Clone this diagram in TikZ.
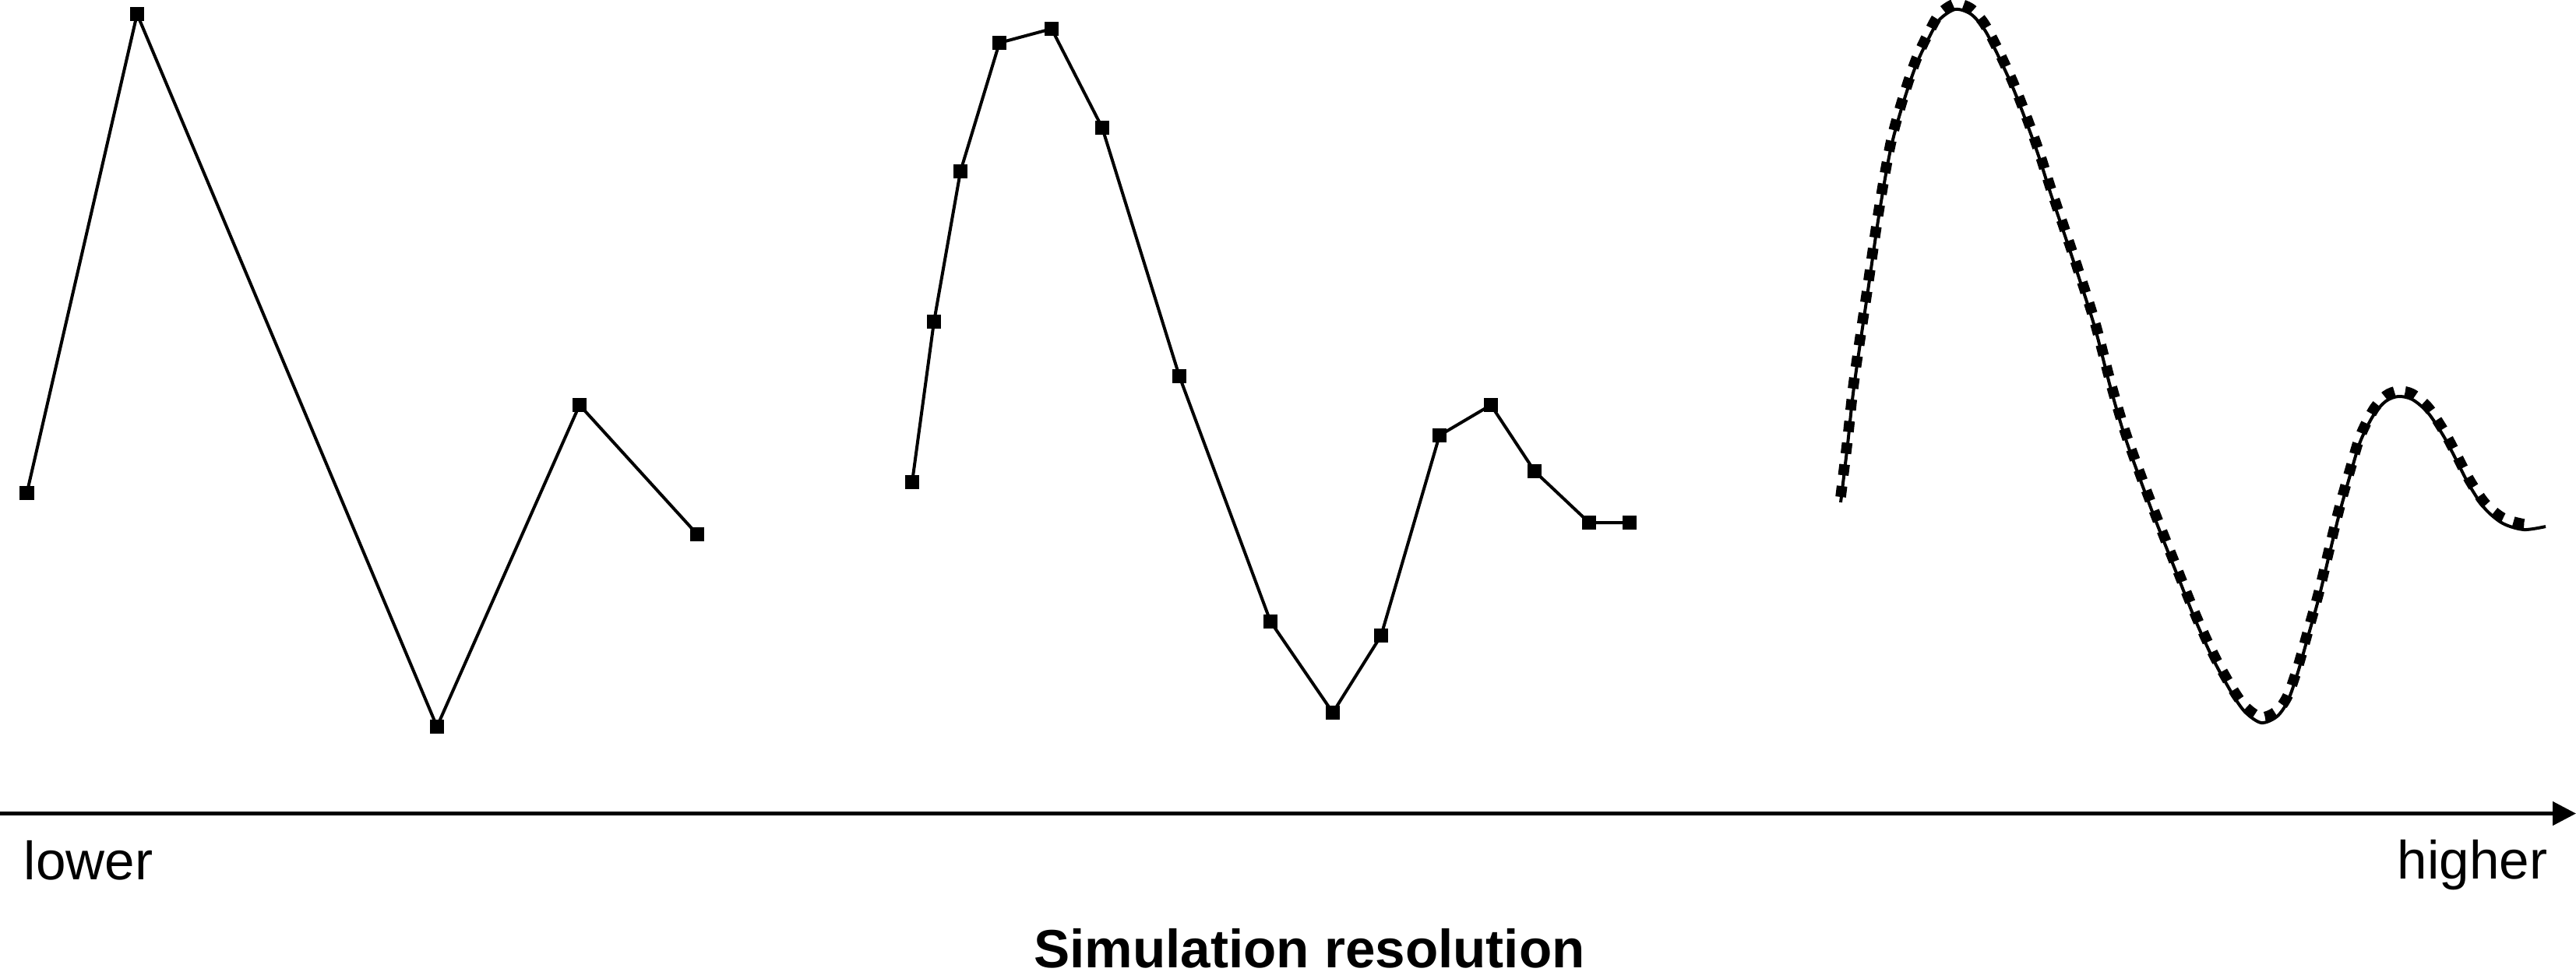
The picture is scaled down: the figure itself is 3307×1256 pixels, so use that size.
\documentclass[tikz,border=0pt]{standalone}
\usepackage{fontspec}
\setmainfont{Liberation Sans}
\usetikzlibrary{arrows.meta}
\tikzset{
  mk/.style={rectangle, fill=black, minimum size=4.7pt, inner sep=0pt},
  ln/.style={line width=1pt, line join=miter},
  axisln/.style={line width=1.25pt, -{Triangle[length=7.5pt,width=7.5pt]}},
  lbl/.style={inner sep=0pt, font=\fontsize{17.3pt}{20pt}\selectfont},
  dashcurve/.style={line width=3.4pt, dash pattern=on 3.5pt off 3.5pt},
}
\begin{document}
\begin{tikzpicture}[x=0.25pt,y=-0.25pt]
\useasboundingbox (0,0) rectangle (3307,1256);
% panel 1
\node[mk] (a1) at (34.5,633) {};
\node[mk] (a2) at (176,18) {};
\node[mk] (a3) at (561,933) {};
\node[mk] (a4) at (744,520) {};
\node[mk] (a5) at (895,686) {};
\draw[ln] (a1.center) -- (a2.center) -- (a3.center) -- (a4.center) -- (a5.center);
% panel 2
\node[mk] (b1) at (1171,619) {};
\node[mk] (b2) at (1199,413) {};
\node[mk] (b3) at (1233,220) {};
\node[mk] (b4) at (1283,55) {};
\node[mk] (b5) at (1350,37) {};
\node[mk] (b6) at (1415,164) {};
\node[mk] (b7) at (1514,483) {};
\node[mk] (b8) at (1631,798) {};
\node[mk] (b9) at (1711,915) {};
\node[mk] (b10) at (1773,816) {};
\node[mk] (b11) at (1848,559) {};
\node[mk] (b12) at (1914,520) {};
\node[mk] (b13) at (1970,605) {};
\node[mk] (b14) at (2040,671) {};
\node[mk] (b15) at (2092,671) {};
\draw[ln] (b1.center) -- (b2.center) -- (b3.center) -- (b4.center) -- (b5.center)
  -- (b6.center) -- (b7.center) -- (b8.center) -- (b9.center) -- (b10.center)
  -- (b11.center) -- (b12.center) -- (b13.center) -- (b14.center) -- (b15.center);
% panel 3: continuous curve
\draw[ln] plot[smooth] coordinates {(2363,645) (2372,570) (2380,497) (2397,380) (2412,277) (2427,192) (2443,133) (2460,83) (2477,47) (2490,25) (2510,12) (2530,18) (2547,37) (2563,67) (2583,110) (2600,153) (2617,200) (2633,250) (2650,300) (2670,360) (2690,423) (2710,500) (2730,567) (2763,657) (2797,743) (2820,800) (2843,850) (2867,893) (2883,915) (2903,928) (2923,920) (2937,900) (2950,863) (2963,817) (2977,767) (2990,713) (3003,660) (3017,610) (3030,567) (3047,533) (3063,515) (3079,509) (3097,513) (3117,530) (3137,560) (3153,590) (3170,623) (3190,653) (3213,672) (3240,680) (3268,676)};
\begin{scope}[yshift=1.75pt]
\draw[dashcurve] plot[smooth] coordinates {(2363,645) (2372,570) (2380,497) (2397,380) (2412,277) (2427,192) (2443,133) (2460,83) (2477,47) (2490,25) (2510,12) (2530,18) (2547,37) (2563,67) (2583,110) (2600,153) (2617,200) (2633,250) (2650,300) (2670,360) (2690,423) (2710,500) (2730,567) (2763,657) (2797,743) (2820,800) (2843,850) (2867,893) (2883,915) (2903,928) (2923,920) (2937,900) (2950,863) (2963,817) (2977,767) (2990,713) (3003,660) (3017,610) (3030,567) (3047,533) (3063,515) (3079,509) (3097,513) (3117,530) (3137,560) (3153,590) (3170,623) (3190,653) (3213,672) (3240,680) (3254,679)};
\end{scope}
% axis
\coordinate (ax0) at (0,1044.5);
\coordinate (ax1) at (3307,1044.5);
\draw[axisln] (ax0) -- (ax1);
\node[lbl, anchor=base west] (lo) at (30,1129) {lower};
\node[lbl, anchor=base east] (hi) at (3271,1128) {higher};
\node[lbl, anchor=base, font=\fontsize{17.3pt}{20pt}\selectfont\bfseries] (title) at (1681,1242) {Simulation resolution};
\end{tikzpicture}
\end{document}
